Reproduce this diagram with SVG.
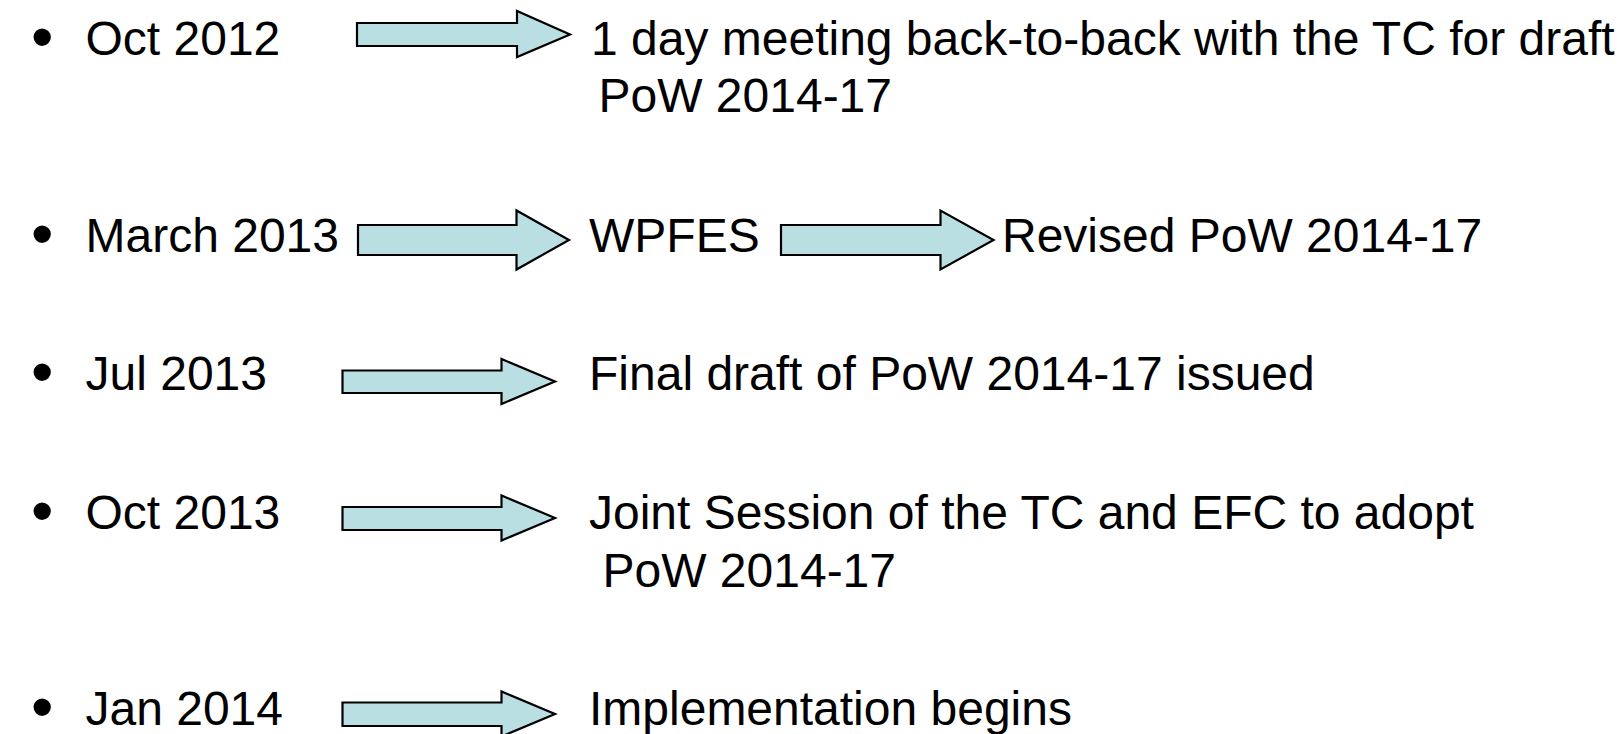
<svg xmlns="http://www.w3.org/2000/svg" width="1618" height="734" viewBox="0 0 1618 734">
<style>
text{font-family:"Liberation Sans",Arial,sans-serif;font-size:48px;fill:#000}
text.b{font-size:64px}
.arr{fill:#B9DFE2;stroke:#000;stroke-width:2.2;stroke-linejoin:miter}
</style>
<rect width="1618" height="734" fill="#fff"/>
<g id="connectors">
<path class="arr" d="M357,23 H517 V11 L570,34.5 L517,57 V46 H357 Z"/>
<path class="arr" d="M358,225 H516.5 V210.5 L569,240 L516.5,269.5 V255 H358 Z"/>
<path class="arr" d="M781,225 H940.5 V210.5 L993.5,240 L940.5,269.5 V255 H781 Z"/>
<path class="arr" d="M342.5,370.5 H501.5 V359 L555,381.5 L501.5,404 V393 H342.5 Z"/>
<path class="arr" d="M342.5,507 H501.5 V495.5 L555,518 L501.5,540.5 V530 H342.5 Z"/>
<path class="arr" d="M342.5,702.5 H501.5 V691.5 L555,714 L501.5,736.5 V726 H342.5 Z"/>
</g>
<g id="row1">
<text class="b" x="31" y="59">•</text>
<text x="85.5" y="55">Oct 2012</text>
<text x="591" y="55">1 day meeting back-to-back with the TC for draft</text>
<text x="598.5" y="112">PoW 2014-17</text>
</g>
<g id="row2">
<text class="b" x="31" y="256">•</text>
<text x="85.5" y="251.5">March 2013</text>
<text x="589" y="251.5">WPFES</text>
<text x="1002" y="251.5">Revised PoW 2014-17</text>
</g>
<g id="row3">
<text class="b" x="31" y="394">•</text>
<text x="85.5" y="390">Jul 2013</text>
<text x="589" y="390">Final draft of PoW 2014-17 issued</text>
</g>
<g id="row4">
<text class="b" x="31" y="533">•</text>
<text x="85.5" y="529">Oct 2013</text>
<text x="589" y="529">Joint Session of the TC and EFC to adopt</text>
<text x="602.5" y="587">PoW 2014-17</text>
</g>
<g id="row5">
<text class="b" x="31" y="729">•</text>
<text x="85.5" y="725">Jan 2014</text>
<text x="589" y="725">Implementation begins</text>
</g>
</svg>
